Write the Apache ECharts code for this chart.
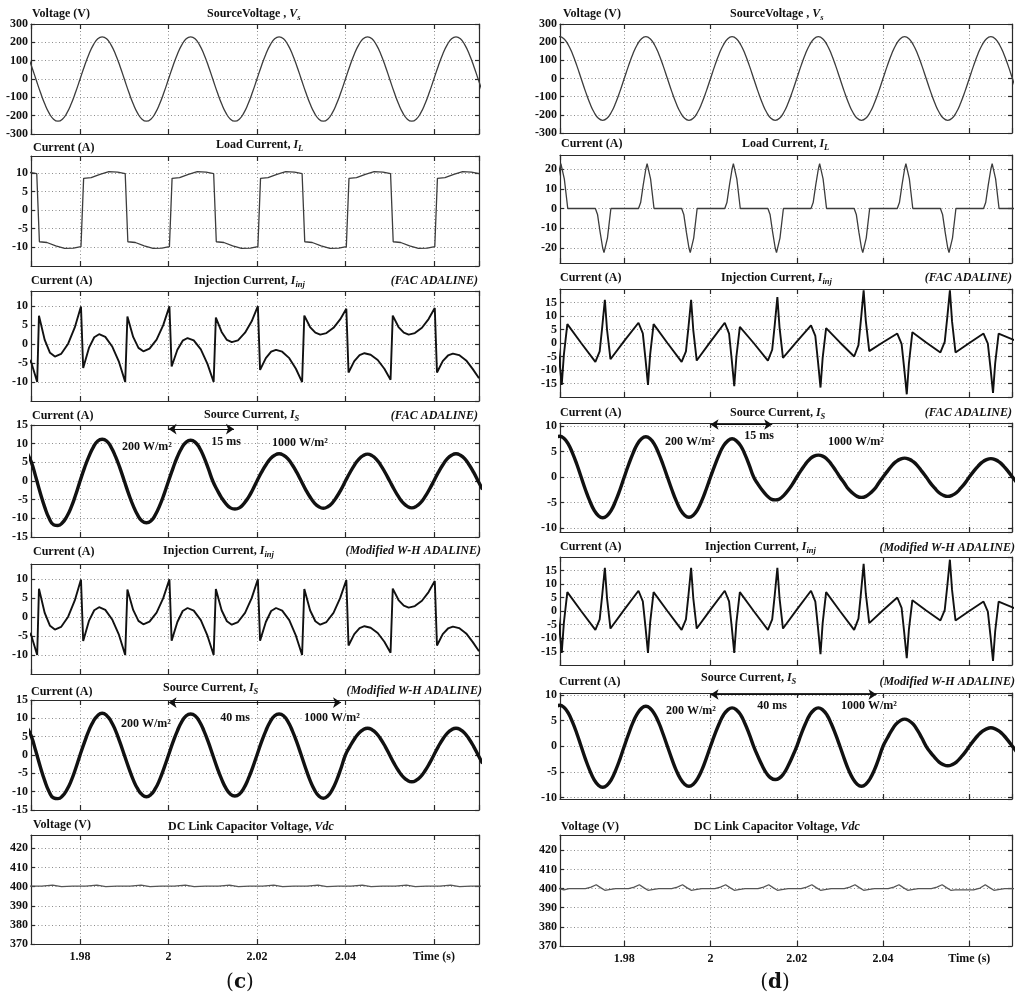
<!DOCTYPE html>
<html><head><meta charset="utf-8">
<script src="https://cdn.jsdelivr.net/npm/echarts@6.0.0/dist/echarts.min.js"></script>
<style>html,body{margin:0;padding:0;background:#fff}#c{width:1024px;height:997px}</style>
</head><body><div id="c"></div>
<script>
// ---------------- DATA ----------------
// shared 1 ms sample times (s)
const tGrid = [1.964,1.965,1.966,1.967,1.968,1.969,1.970,1.971,1.972,1.973,1.974,1.975,1.976,1.977,1.978,1.979,
1.980,1.981,1.982,1.983,1.984,1.985,1.986,1.987,1.988,1.989,1.990,1.991,1.992,1.993,1.994,1.995,1.996,1.997,1.998,1.999,
2.000,2.001,2.002,2.003,2.004,2.005,2.006,2.007,2.008,2.009,2.010,2.011,2.012,2.013,2.014,2.015,2.016,2.017,2.018,2.019,
2.020,2.021,2.022,2.023,2.024,2.025,2.026,2.027,2.028,2.029,2.030,2.031,2.032,2.033,2.034,2.035,2.036,2.037,2.038,2.039,
2.040,2.041,2.042,2.043,2.044,2.045,2.046,2.047,2.048,2.049,2.050,2.051,2.052,2.053,2.054,2.055,2.056,2.057,2.058,2.059,
2.060,2.061,2.062,2.063,2.064,2.065,2.066,2.067,2.068,2.069,2.070,2.071];

// Source voltage Vs (V)
const vsSource = [219,230,219,186,135,71,0,-71,-135,-186,-219,-230,-219,-186,-135,-71,
0,71,135,186,219,230,219,186,135,71,0,-71,-135,-186,-219,-230,-219,-186,-135,-71,
0,71,135,186,219,230,219,186,135,71,0,-71,-135,-186,-219,-230,-219,-186,-135,-71,
0,71,135,186,219,230,219,186,135,71,0,-71,-135,-186,-219,-230,-219,-186,-135,-71,
0,71,135,186,219,230,219,186,135,71,0,-71,-135,-186,-219,-230,-219,-186,-135,-71,
0,71,135,186,219,230,219,186,135,71,0,-71];

// Source current, FAC ADALINE, (c)
const isFacL = [11.2,11.8,11.2,9.5,7.5,5,1,-3.2,-7,-10,-11.7,-11.9,-11.2,-9.5,-7,-3.7,
0,3.5,6.6,9.1,10.7,11.2,10.7,9.1,6.6,3.5,0,-3.5,-6.6,-9.1,-10.7,-11.2,-10.7,-9.1,-6.6,-3.5,
0,3.4,6.5,8.9,10.4,10.9,10.4,8.9,6.4,3.3,0,-2.4,-4.5,-6.1,-7.2,-7.5,-7.2,-6.1,-4.5,-2.4,
0,2.3,4.3,5.9,6.9,7.3,6.9,5.9,4.3,2.3,0,-2.3,-4.3,-5.9,-6.9,-7.3,-6.9,-5.9,-4.3,-2.3,
0,2.2,4.2,5.8,6.8,7.2,6.8,5.8,4.2,2.2,0,-2.2,-4.2,-5.8,-6.8,-7.2,-6.8,-5.8,-4.2,-2.2,
0,2.3,4.3,5.9,6.9,7.3,6.9,5.9,4.3,2.3,0,-2.3];

// Source current, Modified W-H ADALINE, (c)
const isWhL = [11.2,11.8,11.2,9.5,7.5,5,1,-3.2,-7,-10,-11.7,-11.9,-11.2,-9.5,-7,-3.7,
0,3.5,6.7,9.2,10.8,11.4,10.8,9.2,6.7,3.5,0,-3.5,-6.7,-9.2,-10.8,-11.4,-10.8,-9.2,-6.7,-3.5,
0,3.5,6.6,9.1,10.7,11.2,10.7,9.1,6.6,3.5,0,-3.5,-6.6,-9.1,-10.7,-11.2,-10.7,-9.1,-6.6,-3.5,
0,3.5,6.6,9.1,10.7,11.2,10.7,9.1,6.6,3.5,0,-3.6,-6.9,-9.5,-11.2,-11.8,-11.2,-9.5,-6.9,-3.6,
0,2.3,4.3,5.9,6.9,7.3,6.9,5.9,4.3,2.3,0,-2.3,-4.3,-5.9,-6.9,-7.3,-6.9,-5.9,-4.3,-2.3,
0,2.3,4.3,5.9,6.9,7.3,6.9,5.9,4.3,2.3,0,-2.3];

// Source current, FAC ADALINE, (d)
const isFacR = [7.6,8,7.6,6.5,4.7,2.5,0,-2.5,-4.7,-6.5,-7.6,-8,-7.6,-6.5,-4.7,-2.5,
0,2.4,4.6,6.4,7.5,7.9,7.5,6.4,4.6,2.4,0,-2.4,-4.6,-6.4,-7.5,-7.9,-7.5,-6.4,-4.6,-2.4,
0,2.3,4.4,6.1,7.1,7.5,7.1,6.1,4.4,2.3,0,-1.4,-2.6,-3.6,-4.3,-4.5,-4.3,-3.6,-2.6,-1.4,
0,1.3,2.5,3.5,4.1,4.3,4.1,3.5,2.5,1.3,0,-1.2,-2.4,-3.2,-3.8,-4,-3.8,-3.2,-2.4,-1.2,
0,1.1,2.2,3,3.5,3.7,3.5,3,2.2,1.1,0,-1.2,-2.2,-3.1,-3.6,-3.8,-3.6,-3.1,-2.2,-1.2,
0,1.1,2.1,2.9,3.4,3.6,3.4,2.9,2.1,1.1,0,-1.1];

// Source current, Modified W-H ADALINE, (d)
const isWhR = [7.6,8,7.6,6.5,4.7,2.5,0,-2.5,-4.7,-6.5,-7.6,-8,-7.6,-6.5,-4.7,-2.5,
0,2.4,4.6,6.3,7.4,7.8,7.4,6.3,4.6,2.4,0,-2.4,-4.6,-6.3,-7.4,-7.8,-7.4,-6.3,-4.6,-2.4,
0,2.3,4.4,6.1,7.1,7.5,7.1,6.1,4.4,2.3,0,-2,-3.8,-5.3,-6.2,-6.5,-6.2,-5.3,-3.8,-2,
0,2.3,4.4,6.1,7.1,7.5,7.1,6.1,4.4,2.3,0,-2.4,-4.6,-6.3,-7.4,-7.8,-7.4,-6.3,-4.6,-2.4,
0,1.6,3.1,4.3,5,5.3,5,4.3,3.1,1.6,0,-1.2,-2.2,-3.1,-3.6,-3.8,-3.6,-3.1,-2.2,-1.2,
0,1.1,2.1,2.9,3.4,3.6,3.4,2.9,2.1,1.1,0,-1.1];

// Load current (c)
const tLoadL = [1.9680,1.9702,
1.9708,1.9725,1.9745,1.9765,1.9785,1.9802, 1.9808,1.9825,1.9845,1.9865,1.9885,1.9902,
1.9908,1.9925,1.9945,1.9965,1.9985,2.0002, 2.0008,2.0025,2.0045,2.0065,2.0085,2.0102,
2.0108,2.0125,2.0145,2.0165,2.0185,2.0202, 2.0208,2.0225,2.0245,2.0265,2.0285,2.0302,
2.0308,2.0325,2.0345,2.0365,2.0385,2.0402, 2.0408,2.0425,2.0445,2.0465,2.0485,2.0502,
2.0508,2.0525,2.0545,2.0565,2.0585,2.0602, 2.0608,2.0625,2.0645,2.0665,2.0685,2.0702];
const iLoadL = [10.2,9.8,
-8.5,-8.7,-9.6,-10.3,-10.2,-9.8, 8.5,8.7,9.6,10.3,10.2,9.8,
-8.5,-8.7,-9.6,-10.3,-10.2,-9.8, 8.5,8.7,9.6,10.3,10.2,9.8,
-8.5,-8.7,-9.6,-10.3,-10.2,-9.8, 8.5,8.7,9.6,10.3,10.2,9.8,
-8.5,-8.7,-9.6,-10.3,-10.2,-9.8, 8.5,8.7,9.6,10.3,10.2,9.8,
-8.5,-8.7,-9.6,-10.3,-10.2,-9.8, 8.5,8.7,9.6,10.3,10.2,9.8];

// Load current (d)
const tLoadR = [1.9633,1.9638,1.9644,1.9650,1.9653,1.9655,1.9657,1.9661,1.9669,
1.9733,1.9738,1.9744,1.9750,1.9753,1.9755,1.9757,1.9761,1.9769,
1.9833,1.9838,1.9844,1.9850,1.9853,1.9855,1.9857,1.9861,1.9869,
1.9933,1.9938,1.9944,1.9950,1.9953,1.9955,1.9957,1.9961,1.9969,
2.0033,2.0038,2.0044,2.0050,2.0053,2.0055,2.0057,2.0061,2.0069,
2.0133,2.0138,2.0144,2.0150,2.0153,2.0155,2.0157,2.0161,2.0169,
2.0233,2.0238,2.0244,2.0250,2.0253,2.0255,2.0257,2.0261,2.0269,
2.0333,2.0338,2.0344,2.0350,2.0353,2.0355,2.0357,2.0361,2.0369,
2.0433,2.0438,2.0444,2.0450,2.0453,2.0455,2.0457,2.0461,2.0469,
2.0533,2.0538,2.0544,2.0550,2.0553,2.0555,2.0557,2.0561,2.0569,
2.0633,2.0638,2.0644,2.0650,2.0653,2.0655,2.0657,2.0661,2.0669,
2.0705];
const iLoadR = [0,3,12,20,22.7,23,22.3,15,0,
0,-3,-12,-20,-22.3,-22.7,-22,-15,0,
0,3,12,20,22.7,23,22.3,15,0,
0,-3,-12,-20,-22.3,-22.7,-22,-15,0,
0,3,12,20,22.7,23,22.3,15,0,
0,-3,-12,-20,-22.3,-22.7,-22,-15,0,
0,3,12,20,22.7,23,22.3,15,0,
0,-3,-12,-20,-22.3,-22.7,-22,-15,0,
0,3,12,20,22.7,23,22.3,15,0,
0,-3,-12,-20,-22.3,-22.7,-22,-15,0,
0,3,12,20,22.7,23,22.3,15,0,
0];

// Injection currents (c)
const tInjL = [1.9680,1.9690,1.9703,
1.9707,1.9720,1.9732,1.9743,1.9757,1.9773,1.9788,1.9802,
1.9807,1.9820,1.9832,1.9843,1.9857,1.9873,1.9888,1.9902,
1.9907,1.9920,1.9932,1.9943,1.9957,1.9973,1.9988,2.0002,
2.0007,2.0020,2.0032,2.0043,2.0057,2.0073,2.0088,2.0102,
2.0107,2.0120,2.0132,2.0143,2.0157,2.0173,2.0188,2.0202,
2.0207,2.0220,2.0232,2.0243,2.0257,2.0273,2.0288,2.0302,
2.0307,2.0320,2.0332,2.0343,2.0357,2.0373,2.0388,2.0402,
2.0407,2.0420,2.0432,2.0443,2.0457,2.0473,2.0488,2.0502,
2.0507,2.0520,2.0532,2.0543,2.0557,2.0573,2.0588,2.0602,
2.0607,2.0620,2.0632,2.0643,2.0657,2.0673,2.0688,2.0702];
const iInjFacL = [-3.2,-5,-10,
7.5,1.1,-2.3,-3.3,-2.6,0.1,4.4,9.9,
-6.3,-1.0,1.8,2.6,1.9,-0.7,-4.7,-10,
7.3,1.9,-1.0,-1.9,-1.2,1.2,5.0,10,
-5.9,-1.5,0.9,1.6,1.0,-1.4,-5.2,-10,
7,3.2,1.1,0.5,1.0,3.0,6.0,10,
-6.8,-3.7,-2.0,-1.5,-2.0,-3.7,-6.5,-10,
7.5,4.5,3.0,2.5,2.9,4.3,6.5,9.3,
-7.5,-4.5,-2.9,-2.4,-2.8,-4.2,-6.5,-9.4,
7.5,4.5,3.0,2.5,2.9,4.3,6.6,9.5,
-7.5,-4.5,-3.0,-2.5,-2.9,-4.3,-6.6,-9.0];
const iInjWhL = [-3.2,-5,-10,
7.5,1.1,-2.3,-3.3,-2.6,0.1,4.4,9.9,
-6.3,-1.0,1.8,2.6,1.9,-0.7,-4.7,-10,
7.3,1.9,-1.0,-1.9,-1.2,1.2,5.0,10,
-6.2,-1.3,1.6,2.4,1.7,-0.8,-4.9,-10,
7.4,1.8,-1.1,-2.0,-1.3,1.1,5.0,10,
-6.2,-1.3,1.6,2.4,1.7,-0.8,-4.9,-10,
7.4,1.8,-1.1,-2.0,-1.3,1.1,5.0,9.8,
-7.5,-4.5,-2.9,-2.4,-2.8,-4.2,-6.5,-9.4,
7.5,4.5,3.0,2.5,2.9,4.3,6.6,9.5,
-7.5,-4.5,-3.0,-2.5,-2.9,-4.3,-6.6,-9.0];

// Injection currents (d)
const tInjR = [1.9633,1.9643,1.9649,1.9655,1.9660,1.9668,1.9700,
1.9733,1.9743,1.9749,1.9755,1.9760,1.9768,1.9800,
1.9833,1.9843,1.9849,1.9855,1.9860,1.9868,1.9900,
1.9933,1.9943,1.9949,1.9955,1.9960,1.9968,2.0000,
2.0033,2.0043,2.0049,2.0055,2.0060,2.0068,2.0100,
2.0133,2.0143,2.0149,2.0155,2.0160,2.0168,2.0200,
2.0233,2.0243,2.0249,2.0255,2.0260,2.0268,2.0300,
2.0333,2.0343,2.0349,2.0355,2.0360,2.0368,2.0400,
2.0433,2.0443,2.0449,2.0455,2.0460,2.0468,2.0500,
2.0533,2.0543,2.0549,2.0555,2.0560,2.0568,2.0600,
2.0633,2.0643,2.0649,2.0655,2.0660,2.0668,2.0705];
const iInjFacR = [7.5,3.6,-5.6,-15.5,-4.3,7.0,0,
-7,-3.1,6.1,16,5,-6,0.8,
7.5,3.6,-5.6,-15.5,-4.3,7,0,
-7,-3.1,6.1,16,4.8,-6.5,0.5,
7.5,3.5,-5.9,-16,-5,6,0,
-6.5,-2.5,6.9,17,5.8,-5.5,0.5,
6.5,2.6,-6.6,-16.5,-5.5,5.5,0.2,
-5,-0.8,9,19.5,8.3,-3,0.3,
3.5,-0.3,-9.3,-19,-7.5,4,0.2,
-3.5,0.4,9.6,19.5,8,-3.5,0,
3.5,-0.2,-9,-18.5,-7.5,3.5,1];
const iInjWhR = [7.5,3.6,-5.6,-15.5,-4.3,7,0,
-7,-3.1,6.1,16,4.8,-6.5,0.5,
7.5,3.6,-5.6,-15.5,-4.3,7,0,
-7,-3.1,6.1,16,4.8,-6.5,0.5,
7.5,3.6,-5.6,-15.5,-4.3,7,0,
-7,-3.1,6.1,16,4.8,-6.5,0.5,
7.5,3.5,-5.9,-16,-4.5,7,0,
-7,-2.8,7,17.5,6.5,-4.5,0.3,
5,1.2,-7.8,-17.5,-6.8,4,0.2,
-3.5,0.3,9.3,19,7.8,-3.5,0,
3.5,-0.2,-9,-18.5,-7.5,3.5,1];

// DC link voltage (c)
const tVdcL = [1.9685,1.9713,1.9738,1.9758,1.9783,1.9813,1.9838,1.9858,1.9883,1.9913,1.9938,1.9958,1.9983,
2.0013,2.0038,2.0058,2.0083,2.0113,2.0138,2.0158,2.0183,2.0213,2.0238,2.0258,2.0283,2.0313,2.0338,2.0358,2.0383,
2.0413,2.0438,2.0458,2.0483,2.0513,2.0538,2.0558,2.0583,2.0613,2.0638,2.0658,2.0683,2.0710];
const vVdcL = [400.3,400.3,400.8,400.0,400.3,400.3,400.8,400.0,400.3,400.3,400.8,400.0,400.3,
400.3,400.8,400.0,400.3,400.3,400.8,400.0,400.3,400.3,400.8,400.0,400.3,400.3,400.8,400.0,400.3,
400.3,400.8,400.0,400.3,400.3,400.8,400.0,400.3,400.3,400.8,400.0,400.3,400.3];

// DC link voltage (d)
const tVdcR = [1.9645,1.9660,1.9672,
1.9710,1.9723,1.9735,1.9745,1.9755,1.9765,1.9780,
1.9810,1.9823,1.9835,1.9845,1.9855,1.9865,1.9880,
1.9910,1.9923,1.9935,1.9945,1.9955,1.9965,1.9980,
2.0010,2.0023,2.0035,2.0045,2.0055,2.0065,2.0080,
2.0110,2.0123,2.0135,2.0145,2.0155,2.0165,2.0180,
2.0210,2.0223,2.0235,2.0245,2.0255,2.0265,2.0280,
2.0310,2.0323,2.0335,2.0345,2.0355,2.0365,2.0380,
2.0412,2.0425,2.0437,2.0447,2.0457,2.0467,2.0482,
2.0512,2.0525,2.0537,2.0547,2.0557,2.0567,2.0582,2.0610,
2.0625,2.0637,2.0647,2.0657,2.0667,2.0682,2.0705];
const vVdcR = [400.3,399.3,400,
400,400.8,402,400.5,399.1,399.5,400,
400,400.8,402,400.5,399.1,399.5,400,
400,400.8,402,400.5,399.1,399.5,400,
400,400.8,402,400.5,399.1,399.5,400,
400,400.8,402,400.5,399.1,399.5,400,
400,400.8,402,400.5,399.1,399.5,400,
400,400.8,402,400.5,399.1,399.5,400,
400,400.8,402,400.5,399.1,399.5,400,
400,400.8,402,400.5,399.1,399.3,399.3,399.3,
400.3,402,400.5,399.1,399.5,400,400];

// time axis ranges (s)
const xRangeL = [1.9689, 2.0702];
const xRangeR = [1.9651, 2.0699];

// irradiance step arrows [x1, x2, y]
const arrowFacL = [2.0, 2.0148, 13.9];
const arrowFacR = [2.0, 2.0143, 10.3];
const arrowWhL = [2.0, 2.039, 14.3];
const arrowWhR = [2.0, 2.0385, 10.1];

// texts
const headers = [
 [32,14,'Voltage (V)','left'], [207,14,'SourceVoltage , {i|V}{s|s}','left'],
 [563,14,'Voltage (V)','left'], [730,14,'SourceVoltage , {i|V}{s|s}','left'],
 [33,148,'Current (A)','left'], [216,145,'Load Current, {i|I}{s|L}','left'],
 [561,144,'Current (A)','left'], [742,144,'Load Current, {i|I}{s|L}','left'],
 [31,281,'Current (A)','left'], [194,281,'Injection Current, {i|I}{s|inj}','left'], [478,281,'{i|(FAC ADALINE)}','right'],
 [560,278,'Current (A)','left'], [721,278,'Injection Current, {i|I}{s|inj}','left'], [1012,278,'{i|(FAC ADALINE)}','right'],
 [32,416,'Current (A)','left'], [204,415,'Source Current, {i|I}{s|S}','left'], [478,416,'{i|(FAC ADALINE)}','right'],
 [560,413,'Current (A)','left'], [730,413,'Source Current, {i|I}{s|S}','left'], [1012,413,'{i|(FAC ADALINE)}','right'],
 [33,552,'Current (A)','left'], [163,551,'Injection Current, {i|I}{s|inj}','left'], [481,551,'{i|(Modified W-H ADALINE)}','right'],
 [560,547,'Current (A)','left'], [705,547,'Injection Current, {i|I}{s|inj}','left'], [1015,548,'{i|(Modified W-H ADALINE)}','right'],
 [31,692,'Current (A)','left'], [163,688,'Source Current, {i|I}{s|S}','left'], [482,691,'{i|(Modified W-H ADALINE)}','right'],
 [559,682,'Current (A)','left'], [701,678,'Source Current, {i|I}{s|S}','left'], [1015,682,'{i|(Modified W-H ADALINE)}','right'],
 [33,825,'Voltage (V)','left'], [168,827,'DC Link Capacitor Voltage, {i|Vdc}','left'],
 [561,827,'Voltage (V)','left'], [694,827,'DC Link Capacitor Voltage, {i|Vdc}','left']
];
const notes = [
 [147,447,'200 W/m²'],[226,442,'15 ms'],[300,443,'1000 W/m²'],
 [690,442,'200 W/m²'],[759,436,'15 ms'],[856,442,'1000 W/m²'],
 [146,724,'200 W/m²'],[235,718,'40 ms'],[332,718,'1000 W/m²'],
 [691,711,'200 W/m²'],[772,706,'40 ms'],[869,706,'1000 W/m²']
];
const subLabels = [[240,983,'({b|c})'],[775,983,'({b|d})']];

// ---------------- LAYOUT / STYLE ----------------
const FONT = '"Liberation Serif","Times New Roman",serif';
const AX = '#2a2a2a';
const styles = {
  v:  {color:'#3c3c3c', width:1.3, smooth:0.5},
  il: {color:'#3c3c3c', width:1.3, smooth:false},
  inj:{color:'#111', width:1.9, smooth:false},
  is: {color:'#111', width:3.4, smooth:0.5},
  dc: {color:'#555', width:1.3, smooth:false}
};
const panels = [
 {box:[31,24,448,110], xr:xRangeL, y:{min:-300,max:300,interval:100,sMin:true,sMax:true}, t:tGrid, v:vsSource, k:'v'},
 {box:[31,156,448,110], xr:xRangeL, y:{min:-15,max:14.5,interval:5,sMin:false,sMax:false}, t:tLoadL, v:iLoadL, k:'il'},
 {box:[31,291,448,110], xr:xRangeL, y:{min:-15,max:14,interval:5,sMin:false,sMax:false}, t:tInjL, v:iInjFacL, k:'inj'},
 {box:[31,425,448,112], xr:xRangeL, y:{min:-15,max:15,interval:5,sMin:true,sMax:true}, t:tGrid, v:isFacL, k:'is', arrow:arrowFacL},
 {box:[31,564,448,110], xr:xRangeL, y:{min:-15,max:14,interval:5,sMin:false,sMax:false}, t:tInjL, v:iInjWhL, k:'inj'},
 {box:[31,700,448,110], xr:xRangeL, y:{min:-15,max:15,interval:5,sMin:true,sMax:true}, t:tGrid, v:isWhL, k:'is', arrow:arrowWhL},
 {box:[31,835,448,109], xr:xRangeL, y:{min:370,max:427,interval:10,sMin:true,sMax:false}, t:tVdcL, v:vVdcL, k:'dc', xl:true},
 {box:[560,24,452,109], xr:xRangeR, y:{min:-300,max:300,interval:100,sMin:true,sMax:true}, t:tGrid, v:vsSource, k:'v'},
 {box:[560,155,452,108], xr:xRangeR, y:{min:-27.6,max:27.1,split:5,sMin:false,sMax:false}, t:tLoadR, v:iLoadR, k:'il'},
 {box:[560,289,452,108], xr:xRangeR, y:{min:-20,max:20,interval:5,sMin:false,sMax:false}, t:tInjR, v:iInjFacR, k:'inj'},
 {box:[560,423,452,109], xr:xRangeR, y:{min:-10.8,max:10.6,split:4,sMin:false,sMax:false}, t:tGrid, v:isFacR, k:'is', arrow:arrowFacR},
 {box:[560,557,452,108], xr:xRangeR, y:{min:-20,max:20,interval:5,sMin:false,sMax:false}, t:tInjR, v:iInjWhR, k:'inj'},
 {box:[560,693,452,106], xr:xRangeR, y:{min:-10.3,max:10.4,split:4,sMin:false,sMax:false}, t:tGrid, v:isWhR, k:'is', arrow:arrowWhR},
 {box:[560,835,452,111], xr:xRangeR, y:{min:370,max:428,interval:10,sMin:true,sMax:false}, t:tVdcR, v:vVdcR, k:'dc', xl:true}
];

function fmtTime(v){
  if (Math.abs(v-2.06) < 1e-6) return 'Time (s)';
  if (Math.abs(v-2) < 1e-6) return '2';
  return v.toFixed(2);
}
const labelFont = {color:'#111', fontFamily:FONT, fontWeight:'bold', fontSize:12};
const grids=[], xAxes=[], yAxes=[], series=[];
panels.forEach((p, gi) => {
  grids.push({left:p.box[0], top:p.box[1], width:p.box[2], height:p.box[3], containLabel:false, outerBoundsMode:'none'});
  const xb = {gridIndex:gi, type:'value', min:p.xr[0], max:p.xr[1], splitNumber:5,
    axisLine:{show:true, onZero:false, lineStyle:{color:AX, width:1.2}},
    axisTick:{show:true, inside:true, length:5, lineStyle:{color:AX, width:1.2}}};
  xAxes.push(Object.assign({}, xb, {position:'bottom',
    axisLabel:Object.assign({show:!!p.xl, margin:7, showMinLabel:false, showMaxLabel:false, formatter:fmtTime}, labelFont),
    splitLine:{show:true, lineStyle:{color:'#8d8d8d', width:1, type:[1,2.5]}}}));
  xAxes.push(Object.assign({}, xb, {position:'top', axisLabel:{show:false}, splitLine:{show:false}}));
  const yb = {gridIndex:gi, type:'value', min:p.y.min, max:p.y.max,
    axisLine:{show:true, onZero:false, lineStyle:{color:AX, width:1.2}},
    axisTick:{show:true, inside:true, length:4, lineStyle:{color:AX, width:1.2}}};
  if (p.y.interval) yb.interval = p.y.interval; else yb.splitNumber = p.y.split;
  yAxes.push(Object.assign({}, yb, {position:'left',
    axisLabel:Object.assign({show:true, margin:3, showMinLabel:p.y.sMin, showMaxLabel:p.y.sMax}, labelFont),
    splitLine:{show:true, lineStyle:{color:'#8d8d8d', width:1, type:[1,2.5]}}}));
  yAxes.push(Object.assign({}, yb, {position:'right', axisLabel:{show:false}, splitLine:{show:false}}));
  const st = styles[p.k];
  const s = {type:'line', xAxisIndex:2*gi, yAxisIndex:2*gi, data:p.t.map((t,i)=>[t,p.v[i]]),
    showSymbol:false, symbol:'none', smooth:st.smooth, clip:true, silent:true,
    lineStyle:{color:st.color, width:st.width}, z:3};
  if (p.arrow) {
    s.markLine = {silent:true, symbol:['arrow','arrow'], symbolSize:8, animation:false,
      lineStyle:{color:'#111', width:1.2, type:'solid'}, label:{show:false},
      data:[[{coord:[p.arrow[0], p.arrow[2]]},{coord:[p.arrow[1], p.arrow[2]]}]]};
  }
  series.push(s);
});

const richStyles = {
  i:{fontSize:12, fontFamily:FONT, fontWeight:'bold', fontStyle:'italic', lineHeight:16, fill:'#111'},
  s:{fontSize:8.5, fontFamily:FONT, fontWeight:'bold', fontStyle:'italic', lineHeight:9, verticalAlign:'bottom', fill:'#111'}
};
const graphics = [];
headers.forEach(h => graphics.push({type:'text', silent:true, z:10, style:{
  text:h[2], x:h[0], y:h[1], fill:'#111', fontSize:12, fontFamily:FONT, fontWeight:'bold', lineHeight:16,
  align:h[3], verticalAlign:'middle', textAlign:h[3], textVerticalAlign:'middle', rich:richStyles}}));
notes.forEach(n => graphics.push({type:'text', silent:true, z:10, style:{
  text:n[2], x:n[0], y:n[1], fill:'#111', fontSize:12, fontFamily:FONT, fontWeight:'bold',
  align:'center', verticalAlign:'middle', textAlign:'center', textVerticalAlign:'middle',
  backgroundColor:'#fff', padding:[0,1]}}));
subLabels.forEach(n => graphics.push({type:'text', silent:true, z:10, style:{
  text:n[2], x:n[0], y:n[1], fill:'#111', fontSize:20, fontFamily:'"DejaVu Serif",serif', lineHeight:24,
  align:'center', verticalAlign:'middle', textAlign:'center', textVerticalAlign:'middle',
  rich:{b:{fontSize:20, fontFamily:'"DejaVu Serif",serif', fontWeight:'bold', lineHeight:24, fill:'#111'}}}}));

const chart = echarts.init(document.getElementById('c'), null, {renderer:'canvas'});
chart.setOption({backgroundColor:'#fff', animation:false, grid:grids, xAxis:xAxes, yAxis:yAxes, series:series, graphic:graphics});
</script></body></html>
